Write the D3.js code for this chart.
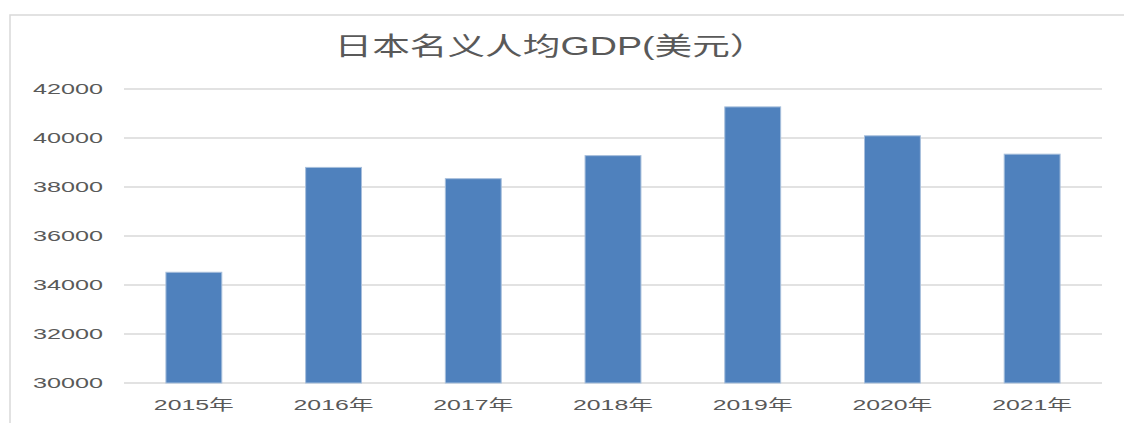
<!DOCTYPE html>
<html>
<head>
<meta charset="utf-8">
<script src="https://cdn.jsdelivr.net/npm/d3@7"></script>
<style>
  body { margin: 0; background: #fff; }
  text { font-family: "Liberation Sans", "Noto Sans CJK SC", sans-serif; fill: #595959; }
</style>
</head>
<body>
<div id="chart"></div>
<script>
// 데이터
const years = ["2015年", "2016年", "2017年", "2018年", "2019年", "2020年", "2021年"];
const gdp = [34520, 38800, 38340, 39280, 41270, 40090, 39340];
const yTicks = [30000, 32000, 34000, 36000, 38000, 40000, 42000];
const title = "日本名义人均GDP(美元）";

// 크기
const W = 1124, H = 423;
const plot = { left: 124, right: 1102, top: 89, bottom: 383 };

const svg = d3.select("#chart")
  .append("svg")
  .attr("width", W)
  .attr("height", H);

// 차트 테두리
svg.append("path")
  .attr("d", `M10,${H} L10,15 L${W},15`)
  .attr("fill", "none")
  .attr("stroke", "#d9d9d9")
  .attr("stroke-width", 1.5);

// 스케일
const x = d3.scaleBand()
  .domain(years)
  .range([plot.left, plot.right])
  .paddingInner(0.6)
  .paddingOuter(0.3);

const y = d3.scaleLinear()
  .domain([30000, 42000])
  .range([plot.bottom, plot.top]);

// 격자선
svg.append("g")
  .selectAll("line")
  .data(yTicks)
  .enter()
  .append("line")
  .attr("x1", plot.left)
  .attr("x2", plot.right)
  .attr("y1", d => y(d))
  .attr("y2", d => y(d))
  .attr("stroke", "#d9d9d9")
  .attr("stroke-width", 1.5);

// y축 라벨
const yAxis = svg.append("g")
  .attr("transform", `translate(103,0)`)
  .call(d3.axisLeft(y).tickValues(yTicks).tickSize(0).tickPadding(0).tickFormat(d3.format("d")));
yAxis.select(".domain").remove();
yAxis.selectAll("text")
  .attr("font-size", "15px")
  .attr("textLength", 70)
  .attr("lengthAdjust", "spacingAndGlyphs")
  .attr("fill", "#595959");

// 막대
svg.append("g")
  .selectAll("rect")
  .data(gdp)
  .enter()
  .append("rect")
  .attr("x", (d, i) => x(years[i]))
  .attr("y", d => y(d))
  .attr("width", x.bandwidth())
  .attr("height", d => y(30000) - y(d))
  .attr("fill", "#4f81bd")
  .attr("stroke", "#a7bfdc")
  .attr("stroke-width", 1);

// x축 라벨
const xAxis = svg.append("g")
  .attr("transform", `translate(0,${plot.bottom})`)
  .call(d3.axisBottom(x).tickSize(0).tickPadding(0));
xAxis.select(".domain").remove();
xAxis.selectAll("text")
  .attr("font-size", "15px")
  .attr("dy", null)
  .attr("y", 27)
  .attr("textLength", 80)
  .attr("lengthAdjust", "spacingAndGlyphs")
  .attr("fill", "#595959");

// 제목
svg.append("text")
  .attr("x", 551)
  .attr("y", 55)
  .attr("text-anchor", "middle")
  .attr("font-size", "25px")
  .attr("textLength", 433)
  .attr("lengthAdjust", "spacingAndGlyphs")
  .text(title);
</script>
</body>
</html>
